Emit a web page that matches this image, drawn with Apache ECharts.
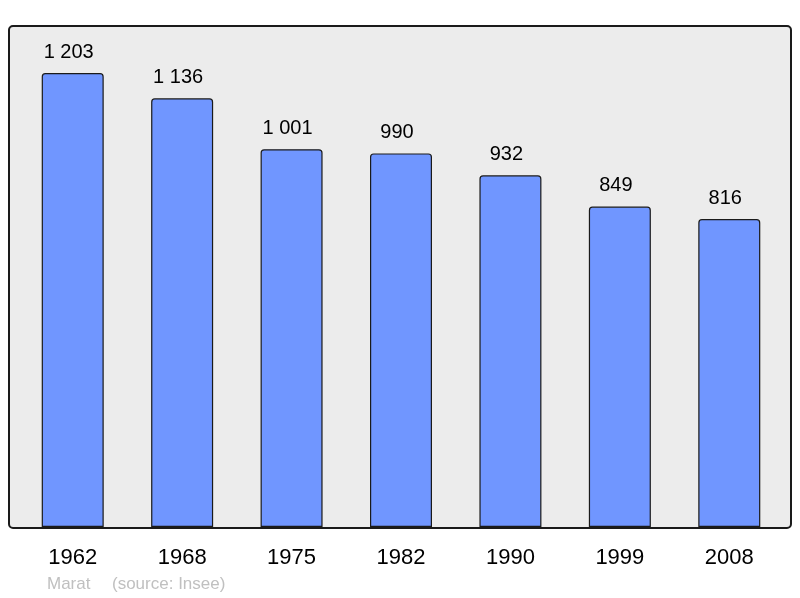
<!DOCTYPE html>
<html>
<head>
<meta charset="utf-8">
<script src="https://cdn.jsdelivr.net/npm/echarts@6/dist/echarts.min.js"></script>
<style>
  html, body { margin: 0; padding: 0; background: #ffffff; }
  #chart { width: 800px; height: 598px; }
</style>
</head>
<body>
<div id="chart"></div>
<script>
  // population par recensement
  var years = ["1962", "1968", "1975", "1982", "1990", "1999", "2008"];
  var population = [1203, 1136, 1001, 990, 932, 849, 816];
  var yMax = 1325;

  var chart = echarts.init(document.getElementById("chart"));

  var option = {
    animation: false,
    backgroundColor: "#ffffff",
    textStyle: { fontFamily: "Liberation Sans, Arial, sans-serif" },
    graphic: [
      {
        type: "rect",
        z: -10,
        shape: { x: 9, y: 26, width: 782, height: 502, r: 4 },
        style: { fill: "#ececec", stroke: "#1a1a1a", lineWidth: 2 },
      },
      {
        type: "text",
        left: 47,
        top: 576,
        style: { text: "Marat", fill: "#c0c0c0", fontSize: 17, fontFamily: "Liberation Sans" },
      },
      {
        type: "text",
        left: 112,
        top: 576,
        style: { text: "(source: Insee)", fill: "#c0c0c0", fontSize: 17, fontFamily: "Liberation Sans" },
      },
    ],
    grid: {
      left: 18,
      right: 16,
      top: 27,
      bottom: 71,
      containLabel: false,
    },
    xAxis: {
      type: "category",
      data: years,
      axisLine: { show: false },
      axisTick: { show: false },
      axisLabel: {
        color: "#000000",
        fontSize: 22,
        margin: 20,
        fontFamily: "Liberation Sans",
      },
    },
    yAxis: {
      type: "value",
      min: 0,
      max: yMax,
      show: false,
      splitLine: { show: false },
    },
    series: [
      {
        type: "bar",
        data: population,
        barWidth: 62,
        itemStyle: {
          color: "#7096ff",
          borderColor: "#1a1a1a",
          borderWidth: 1.2,
          borderRadius: [3, 3, 0, 0],
        },
        label: {
          show: true,
          position: "top",
          distance: 11,
          offset: [-4, 0],
          color: "#000000",
          fontSize: 20,
          fontFamily: "Liberation Sans",
          formatter: function (p) {
            return p.value >= 1000
              ? Math.floor(p.value / 1000) + " " + String(p.value % 1000).padStart(3, "0")
              : String(p.value);
          },
        },
      },
    ],
  };

  chart.setOption(option);
</script>
</body>
</html>
